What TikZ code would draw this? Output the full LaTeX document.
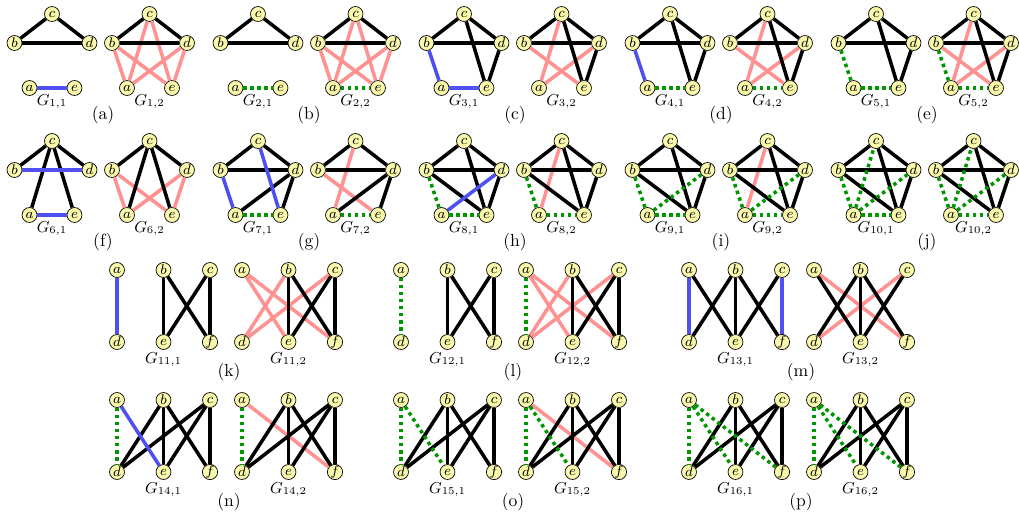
\documentclass[tikz,border=0pt]{standalone}
\usepackage{tikz}
\definecolor{vtxfill}{RGB}{250,248,170}
\definecolor{gpink}{RGB}{255,145,145}
\definecolor{gblue}{RGB}{80,80,240}
\definecolor{ggreen}{RGB}{0,150,0}

% five vertices: name, x of c, y of the b--d line, subscript
\newcommand{\pentagon}[4]{%
  \node[vtx] (#1-c) at (#2,#3-29) {$c$};
  \node[vtx] (#1-b) at (#2-37.5,#3) {$b$};
  \node[vtx] (#1-d) at (#2+37.5,#3) {$d$};
  \node[vtx] (#1-a) at (#2-22.5,#3+45) {$a$};
  \node[vtx] (#1-e) at (#2+22.5,#3+45) {$e$};
  \node[glabel] (#1-lbl) at (#2,#3+62) {$G_{#4}$};
}
% six vertices in two rows: name, x of a, y of top row, subscript
\newcommand{\bipart}[4]{%
  \node[vtx] (#1-a) at (#2,#3) {$a$};
  \node[vtx] (#1-b) at (#2+46.5,#3) {$b$};
  \node[vtx] (#1-c) at (#2+93,#3) {$c$};
  \node[vtx] (#1-d) at (#2,#3+72) {$d$};
  \node[vtx] (#1-e) at (#2+46.5,#3+72) {$e$};
  \node[vtx] (#1-f) at (#2+93,#3+72) {$f$};
  \node[glabel] (#1-lbl) at (#2+46.5,#3+93) {$G_{#4}$};
}
\newcommand{\gedges}[3]{\foreach \u/\v in {#3}{\draw[#2] (#1-\u) -- (#1-\v);}}

\begin{document}
\begin{tikzpicture}[x=0.02cm, y=-0.02cm,
  vtx/.style={circle, draw=black, fill=vtxfill, inner sep=0pt, minimum size=8.5pt, font=\footnotesize},
  blk/.style={line width=2pt, black},
  pnk/.style={line width=2pt, gpink},
  blu/.style={line width=2pt, gblue},
  grn/.style={line width=2pt, ggreen, dash pattern=on 2pt off 2pt},
  glabel/.style={anchor=base, font=\small},
  plabel/.style={anchor=base}
]
\useasboundingbox (0,0) rectangle (1019,518);
% (a)
\pentagon{a1}{52}{43}{1,1}
\gedges{a1}{blk}{b/c,c/d,b/d}
\gedges{a1}{blu}{a/e}
\pentagon{a2}{149.5}{43}{1,2}
\gedges{a2}{pnk}{c/a,c/e,b/a,b/e,d/a,d/e}
\gedges{a2}{blk}{b/c,c/d,b/d}
\node[plabel] (lbl-a) at (103,119) {(a)};
% (b)
\pentagon{b1}{258}{43}{2,1}
\gedges{b1}{blk}{b/c,c/d,b/d}
\gedges{b1}{grn}{a/e}
\pentagon{b2}{355.5}{43}{2,2}
\gedges{b2}{pnk}{c/a,c/e,b/a,b/e,d/a,d/e}
\gedges{b2}{blk}{b/c,c/d,b/d}
\gedges{b2}{grn}{a/e}
\node[plabel] (lbl-b) at (309,119) {(b)};
% (c)
\pentagon{c1}{464}{43}{3,1}
\gedges{c1}{blk}{b/c,c/d,b/d,c/e,d/e}
\gedges{c1}{blu}{b/a,a/e}
\pentagon{c2}{561.5}{43}{3,2}
\gedges{c2}{pnk}{c/a,b/e,d/a}
\gedges{c2}{blk}{b/c,c/d,b/d,c/e,d/e}
\node[plabel] (lbl-c) at (515,119) {(c)};
% (d)
\pentagon{d1}{670}{43}{4,1}
\gedges{d1}{blk}{b/c,c/d,b/d,c/e,d/e}
\gedges{d1}{blu}{b/a}
\gedges{d1}{grn}{a/e}
\pentagon{d2}{767.5}{43}{4,2}
\gedges{d2}{pnk}{c/a,b/e,d/a}
\gedges{d2}{blk}{b/c,c/d,b/d,c/e,d/e}
\gedges{d2}{grn}{a/e}
\node[plabel] (lbl-d) at (721,119) {(d)};
% (e)
\pentagon{e1}{876}{43}{5,1}
\gedges{e1}{blk}{b/c,c/d,b/d,c/e,d/e}
\gedges{e1}{grn}{b/a,a/e}
\pentagon{e2}{973.5}{43}{5,2}
\gedges{e2}{pnk}{c/a,b/e,d/a}
\gedges{e2}{blk}{b/c,c/d,b/d,c/e,d/e}
\gedges{e2}{grn}{b/a,a/e}
\node[plabel] (lbl-e) at (927,119) {(e)};
% (f)
\pentagon{f1}{52}{170}{6,1}
\gedges{f1}{blk}{b/c,c/d,c/a,c/e}
\gedges{f1}{blu}{b/d,a/e}
\pentagon{f2}{149.5}{170}{6,2}
\gedges{f2}{pnk}{b/a,b/e,d/a,d/e}
\gedges{f2}{blk}{b/c,c/d,c/a,c/e}
\node[plabel] (lbl-f) at (103,246) {(f)};
% (g)
\pentagon{g1}{258}{170}{7,1}
\gedges{g1}{blk}{b/c,c/d,b/d,d/a,d/e}
\gedges{g1}{blu}{b/a,c/e}
\gedges{g1}{grn}{a/e}
\pentagon{g2}{355.5}{170}{7,2}
\gedges{g2}{pnk}{c/a,b/e}
\gedges{g2}{blk}{b/c,c/d,b/d,d/a,d/e}
\gedges{g2}{grn}{a/e}
\node[plabel] (lbl-g) at (309,246) {(g)};
% (h)
\pentagon{h1}{464}{170}{8,1}
\gedges{h1}{blk}{b/c,c/d,b/d,c/e,b/e,d/e}
\gedges{h1}{blu}{a/d}
\gedges{h1}{grn}{b/a,a/e}
\pentagon{h2}{561.5}{170}{8,2}
\gedges{h2}{pnk}{c/a}
\gedges{h2}{blk}{b/c,c/d,b/d,c/e,b/e,d/e}
\gedges{h2}{grn}{b/a,a/e}
\node[plabel] (lbl-h) at (515,246) {(h)};
% (i)
\pentagon{i1}{670}{170}{9,1}
\gedges{i1}{blk}{b/c,c/d,b/d,c/e,b/e,d/e}
\gedges{i1}{grn}{b/a,a/e,a/d}
\pentagon{i2}{767.5}{170}{9,2}
\gedges{i2}{pnk}{c/a}
\gedges{i2}{blk}{b/c,c/d,b/d,c/e,b/e,d/e}
\gedges{i2}{grn}{b/a,a/e,a/d}
\node[plabel] (lbl-i) at (721,246) {(i)};
% (j)
\pentagon{j1}{876}{170}{10,1}
\gedges{j1}{blk}{b/c,c/d,b/d,c/e,b/e,d/e}
\gedges{j1}{grn}{b/a,a/e,a/d,a/c}
\pentagon{j2}{973.5}{170}{10,2}
\gedges{j2}{blk}{b/c,c/d,b/d,c/e,b/e,d/e}
\gedges{j2}{grn}{b/a,a/e,a/d,a/c}
\node[plabel] (lbl-j) at (927,246) {(j)};
% (k)
\bipart{k1}{117}{270}{11,1}
\gedges{k1}{blk}{b/e,b/f,c/e,c/f}
\gedges{k1}{blu}{a/d}
\bipart{k2}{242}{270}{11,2}
\gedges{k2}{pnk}{a/e,a/f,d/b,d/c}
\gedges{k2}{blk}{b/e,b/f,c/e,c/f}
\node[plabel] (lbl-k) at (229,376) {(k)};
% (l)
\bipart{l1}{401}{270}{12,1}
\gedges{l1}{blk}{b/e,b/f,c/e,c/f}
\gedges{l1}{grn}{a/d}
\bipart{l2}{526}{270}{12,2}
\gedges{l2}{pnk}{a/e,a/f,d/b,d/c}
\gedges{l2}{blk}{b/e,b/f,c/e,c/f}
\gedges{l2}{grn}{a/d}
\node[plabel] (lbl-l) at (513,376) {(l)};
% (m)
\bipart{m1}{689}{270}{13,1}
\gedges{m1}{blk}{a/e,b/d,b/e,b/f,c/e}
\gedges{m1}{blu}{a/d,c/f}
\bipart{m2}{814}{270}{13,2}
\gedges{m2}{pnk}{a/f,c/d}
\gedges{m2}{blk}{a/e,b/d,b/e,b/f,c/e}
\node[plabel] (lbl-m) at (801,376) {(m)};
% (n)
\bipart{n1}{117}{400}{14,1}
\gedges{n1}{blk}{b/d,b/e,b/f,c/d,c/e,c/f}
\gedges{n1}{blu}{a/e}
\gedges{n1}{grn}{a/d}
\bipart{n2}{242}{400}{14,2}
\gedges{n2}{pnk}{a/f}
\gedges{n2}{blk}{b/d,b/e,b/f,c/d,c/e,c/f}
\gedges{n2}{grn}{a/d}
\node[plabel] (lbl-n) at (229,506) {(n)};
% (o)
\bipart{o1}{401}{400}{15,1}
\gedges{o1}{blk}{b/d,b/e,b/f,c/d,c/e,c/f}
\gedges{o1}{grn}{a/d,a/e}
\bipart{o2}{526}{400}{15,2}
\gedges{o2}{pnk}{a/f}
\gedges{o2}{blk}{b/d,b/e,b/f,c/d,c/e,c/f}
\gedges{o2}{grn}{a/d,a/e}
\node[plabel] (lbl-o) at (513,506) {(o)};
% (p)
\bipart{p1}{689}{400}{16,1}
\gedges{p1}{blk}{b/d,b/e,b/f,c/d,c/e,c/f}
\gedges{p1}{grn}{a/d,a/e,a/f}
\bipart{p2}{814}{400}{16,2}
\gedges{p2}{blk}{b/d,b/e,b/f,c/d,c/e,c/f}
\gedges{p2}{grn}{a/d,a/e,a/f}
\node[plabel] (lbl-p) at (801,506) {(p)};
\end{tikzpicture}
\end{document}
